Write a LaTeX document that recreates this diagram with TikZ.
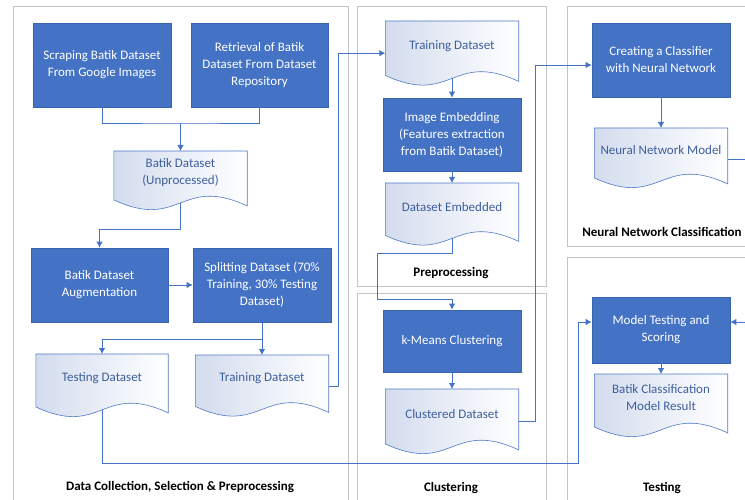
\documentclass[tikz,border=0pt]{standalone}
\usepackage{fontspec}
\setmainfont{Carlito}
\usetikzlibrary{calc,arrows.meta,backgrounds}
\definecolor{boxblue}{HTML}{4472C4}
\definecolor{boxedge}{HTML}{3A63AE}
\definecolor{docline}{HTML}{4F7AC7}
\definecolor{docfill}{HTML}{D3DCEE}
\definecolor{doctext}{HTML}{3E5F9E}
\definecolor{connblue}{HTML}{4472C4}
\definecolor{panelgray}{HTML}{C4C4C4}
\newcommand{\docoutline}[1]{%
  \coordinate (#1-b) at ($(#1.south)+(0,8)$);
  \path[docshape] (#1.north west) -- (#1.north east) -- ($(#1.south east)+(0,11)$)
    .. controls ($(#1.south)+(0,-20)$) and ($(#1.south)+(0,36)$) .. ($(#1.south west)+(0,5)$) -- cycle;}
\begin{document}
\begin{tikzpicture}[x=1pt,y=-1pt,
  bluebox/.style={rectangle, fill=boxblue, draw=boxedge, line width=0.6pt, text=white, inner sep=0pt, align=center, font=\fontsize{13}{17}\selectfont},
  docbox/.style={rectangle, inner sep=0pt, align=center, text=doctext, anchor=north, minimum width=133, font=\fontsize{13}{17}\selectfont},
  docshape/.style={draw=docline, line width=0.6pt, left color=docfill, right color=white},
  panel/.style={draw=panelgray, line width=0.8pt},
  paneltitle/.style={font=\bfseries\fontsize{13}{15}\selectfont, text=black},
  conn/.style={draw=connblue, line width=0.9pt},
  arr/.style={conn, -{Latex[length=6pt,width=6.5pt]}},
]
\useasboundingbox (0,0) rectangle (745,500);
% panels
\draw[panel] (13,6) rectangle (348,510);
\draw[panel] (357,6) rectangle (546,286);
\draw[panel] (357,293) rectangle (546,510);
\draw[panel] (567,6) rectangle (770,246);
\draw[panel] (567,257) rectangle (770,510);
\node[paneltitle] (title1) at (180,487) {Data Collection, Selection \& Preprocessing};
\node[paneltitle] (title2) at (451,273) {Preprocessing};
\node[paneltitle] (title3) at (451,488) {Clustering};
\node[paneltitle] (title4) at (662,232) {Neural Network Classification};
\node[paneltitle] (title5) at (662,488) {Testing};
% nodes
\node[bluebox, minimum width=138, minimum height=84] (scrape) at (102,65) {Scraping Batik Dataset\\From Google Images};
\node[bluebox, minimum width=137, minimum height=84] (retrieve) at (259.5,65) {Retrieval of Batik\\Dataset From Dataset\\Repository};
\node[docbox, minimum height=43.5] (batik) at (180.5,151) {Batik Dataset\\(Unprocessed)};
\node[bluebox, minimum width=137, minimum height=74] (augment) at (99.5,285) {Batik Dataset\\Augmentation};
\node[bluebox, minimum width=138, minimum height=74] (split) at (262,285) {Splitting Dataset (70\%\\Training, 30\% Testing\\Dataset)};
\node[docbox, minimum width=132, minimum height=47.5] (testing) at (102,354) {Testing Dataset};
\node[docbox, minimum height=46] (train1) at (262,355) {Training Dataset};
\node[docbox, minimum height=49] (train2) at (452,21) {Training Dataset};
\node[bluebox, minimum width=138, minimum height=73] (embed) at (452,134.5) {Image Embedding\\(Features extraction\\from Batik Dataset)};
\node[docbox, minimum height=47] (embedded) at (452,183) {Dataset Embedded};
\node[bluebox, minimum width=138, minimum height=62] (kmeans) at (452,341) {k-Means Clustering};
\node[docbox, minimum height=49.5] (clustered) at (452,389) {Clustered Dataset};
\node[bluebox, minimum width=138, minimum height=74] (classifier) at (661,60) {Creating a Classifier\\with Neural Network};
\node[docbox, minimum height=44.5] (nnmodel) at (661,128) {Neural Network Model};
\node[bluebox, minimum width=138, minimum height=66] (modeltest) at (661,330) {Model Testing and\\Scoring};
\node[docbox, minimum height=47.5] (result) at (661,374) {Batik Classification\\Model Result};
\begin{scope}[on background layer]
\foreach \d in {batik,testing,train1,train2,embedded,clustered,nnmodel,result}{\docoutline{\d}}
\end{scope}
% connectors
\coordinate (j1) at (180.5,123);
\draw[conn] (scrape.south) |- (j1) -| (retrieve.south);
\draw[arr] (j1) -- (batik.north);
\draw[arr] (batik-b) -- ++(0,26.5) -| (augment.north);
\draw[arr] (augment.east) -- (split.west);
\coordinate (j2) at (262,339);
\draw[conn] (split.south) -- (j2);
\draw[arr] (j2) -| (testing.north);
\draw[arr] (j2) -- (train1.north);
\draw[arr] ($(train1.east)+(0,8)$) -- ++(10,0) |- ($(train2.west)+(0,7.5)$);
\coordinate (t1) at (578,463);
\draw[arr] (testing-b) |- (t1) |- ($(modeltest.west)+(0,-8)$);
\draw[arr] (train2-b) -- (embed.north);
\draw[arr] (embed.south) -- (embedded.north);
\coordinate (e1) at (377,253);
\coordinate (e2) at (377,299);
\draw[arr] (embedded-b) |- (e1) -- (e2) -| (kmeans.north);
\draw[arr] (kmeans.south) -- (clustered.north);
\draw[arr] ($(clustered.east)+(0,7)$) -- ++(17,0) |- ($(classifier.west)+(0,5)$);
\draw[arr] (classifier.south) -- (nnmodel.north);
\draw[arr] ($(nnmodel.east)+(0,9)$) -- ++(40,0) |- ($(modeltest.east)+(0,-8)$);
\draw[arr] (modeltest.south) -- (result.north);
\end{tikzpicture}
\end{document}
